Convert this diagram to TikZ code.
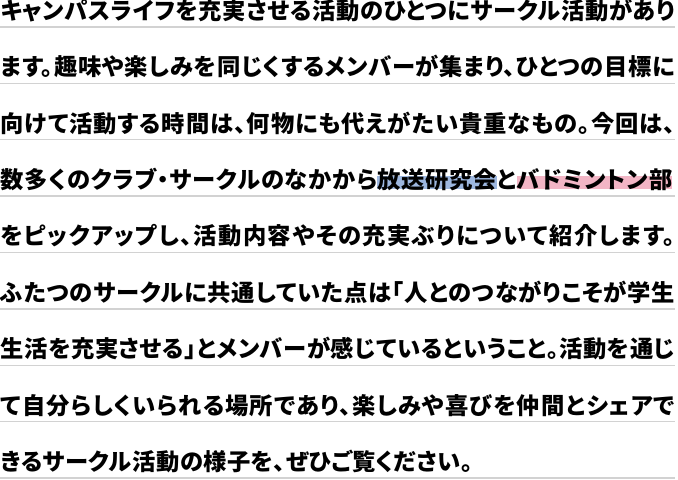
\documentclass[tikz,border=0pt]{standalone}
\usepackage{fontspec}
\setmainfont{Noto Sans CJK JP}[RawFeature=+palt]
\pgfdeclarelayer{background}
\pgfsetlayers{background,main}
\definecolor{rulegray}{HTML}{D2D2D2}
\definecolor{hlblue}{HTML}{9DB7DF}
\definecolor{hlpink}{HTML}{F2B5C5}
\newcommand\jpbase{\fontsize{23.3bp}{28bp}\selectfont\bfseries}
\newlength\wza
\newlength\wzb
\newlength\fullw
\setlength\fullw{674.5bp}
% compute letter spacing so that #2 fills \fullw, store in \ls<#1>
\newcommand\fitls[2]{%
  \settowidth\wza{\jpbase\addfontfeature{LetterSpace=0}#2}%
  \settowidth\wzb{\jpbase\addfontfeature{LetterSpace=10}#2}%
  \ifdim\dimexpr\wzb-\wza\relax>1pt
    \pgfmathsetmacro\tmpv{10*(\fullw-\wza)/(\wzb-\wza)}%
  \else
    \def\tmpv{2}%
  \fi
  \expandafter\xdef\csname ls#1\endcsname{\tmpv}}
\newcommand\withls[2]{\edef\tmpls{\noexpand\addfontfeature{LetterSpace=#1}}\tmpls #2}
\def\Ta{キャンパスライフを充実させる活動のひとつにサークル活動があり}
\def\Tb{ます。趣味や楽しみを同じくするメンバーが集まり、ひとつの目標に}
\def\Tc{向けて活動する時間は、何物にも代えがたい貴重なもの。今回は、}
\def\Td{数多くのクラブ・サークルのなかから放送研究会とバドミントン部}
\def\Te{をピックアップし、活動内容やその充実ぶりについて紹介します。}
\def\Tf{ふたつのサークルに共通していた点は「人とのつながりこそが学生}
\def\Tg{生活を充実させる」とメンバーが感じているということ。活動を通じ}
\def\Th{て自分らしくいられる場所であり、楽しみや喜びを仲間とシェアで}
\AtBeginDocument{%
  \fitls{a}{\Ta}\fitls{b}{\Tb}\fitls{c}{\Tc}\fitls{d}{\Td}%
  \fitls{e}{\Te}\fitls{f}{\Tf}\fitls{g}{\Tg}\fitls{h}{\Th}}
\tikzset{
  txt/.style={anchor=base west, inner sep=0pt, outer sep=0pt, font=\jpbase, text=black},
  rulel/.style={draw=rulegray, line width=1.5bp},
}
\begin{document}
\begin{tikzpicture}[x=1bp, y=-1bp]
\useasboundingbox (0,0) rectangle (678,480);
% rules
\foreach \i in {0,...,8} {
  \draw[rulel] (0,{27+56.375*\i}) -- (675,{27+56.375*\i});
}
\node[txt] (l1) at (0.5,19.5) {\withls{\lsa}{\Ta}};
\node[txt] (l2) at (0.5,75.9) {\withls{\lsb}{\Tb}};
\node[txt] (l3) at (0.5,132.25) {\withls{\lsc}{\Tc}};
\node[txt] (l4a) at (0.5,188.6) {\withls{\lsd}{数多くのクラブ・サークルのなかから}};
\node[txt] (l4b) at (l4a.base east) {\withls{\lsd}{放送研究会}};
\node[txt] (l4c) at (l4b.base east) {\withls{\lsd}{と}};
\node[txt] (l4d) at (l4c.base east) {\withls{\lsd}{バドミントン部}};
\node[txt] (l5) at (0.5,245) {\withls{\lse}{\Te}};
\node[txt] (l6) at (0.5,301.4) {\withls{\lsf}{\Tf}};
\node[txt] (l7) at (0.5,357.75) {\withls{\lsg}{\Tg}};
\node[txt] (l8) at (0.5,414.1) {\withls{\lsh}{\Th}};
\node[txt] (l9) at (0.5,470.5) {\withls{2.2}{きるサークル活動の様子を、ぜひご覧ください。}};
\begin{pgfonlayer}{background}
  \fill[white] (0,0) rectangle (678,480);
  \fill[hlblue] (l4b.west |- 0,176.5) rectangle (l4b.east |- 0,189);
  \fill[hlpink] (l4d.west |- 0,176.5) rectangle (l4d.east |- 0,189);
\end{pgfonlayer}
\end{tikzpicture}
\end{document}
